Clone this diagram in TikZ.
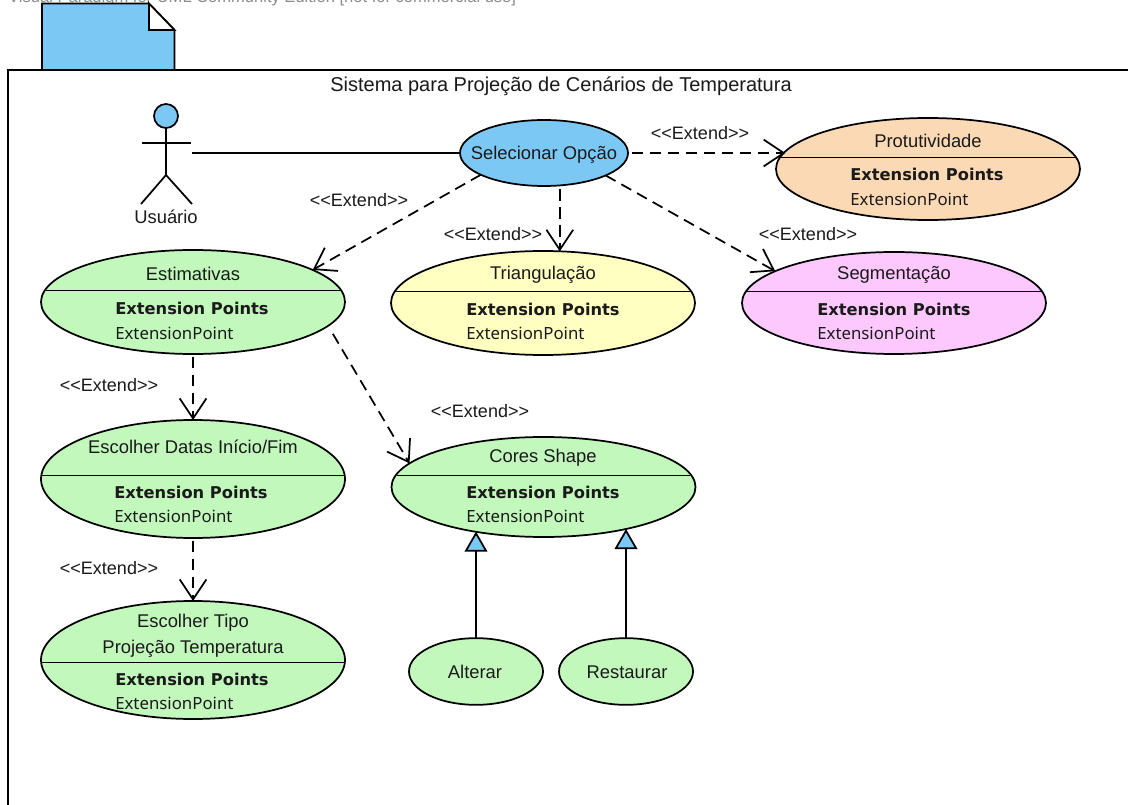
\documentclass[tikz,border=0pt]{standalone}
\usepackage{fontspec}
\setmainfont{Liberation Sans}
\newfontfamily\epfont{Noto Sans}
\newfontfamily\epbfont{DejaVu Sans}
\usetikzlibrary{shapes.geometric,arrows.meta}
\definecolor{cblue}{HTML}{7CC8F5}
\definecolor{cgreen}{HTML}{C2F8BC}
\definecolor{corange}{HTML}{FBD9B4}
\definecolor{cyellow}{HTML}{FFFFC2}
\definecolor{cpink}{HTML}{FDC8FD}
\definecolor{ink}{HTML}{1A1A1A}
\newcommand{\extlabel}{{<}{<}Extend{>}{>}}
\tikzset{
  ucase/.style={shape=ellipse,draw=black,line width=1.3pt,inner sep=0pt,outer sep=0pt},
  ttl/.style={font=\fontsize{13.8pt}{16pt}\selectfont,text=ink,inner sep=0pt,anchor=mid,yshift=-2pt},
  epb/.style={font=\epbfont\fontsize{12.2pt}{14pt}\selectfont\bfseries,text=ink,inner sep=0pt,anchor=mid west,yshift=-1.6pt},
  epn/.style={font=\epfont\fontsize{12.6pt}{14pt}\selectfont,text=ink,inner sep=0pt,anchor=mid west,yshift=-2pt},
  ext/.style={font=\fontsize{13.5pt}{16pt}\selectfont,text=ink,inner sep=0pt,anchor=mid,yshift=-2pt},
  dep/.style={draw=black,line width=1.3pt,dash pattern=on 8.5pt off 5pt,
     -{Straight Barb[length=15pt,width=20pt,line width=1.3pt]}},
  gen/.style={draw=black,line width=1.3pt,
     -{Triangle[open,length=15pt,width=17pt,fill=cblue,line width=1.3pt]}},
  solid line/.style={draw=black,line width=1.3pt}
}
% name, cx, cy, rx, ry, divider y, colour
\newcommand{\ucdiv}[7]{%
  \node[ucase,fill=#7,minimum width=#4*1.5pt,minimum height=#5*1.5pt] (#1) at (#2,#3) {};
  \pgfmathsetmacro{\hw}{(#4-1)*sqrt(1-((#6-#3)/#5)^2)}
  \draw[line width=0.6pt,black] ({#2-\hw},#6) -- ({#2+\hw},#6);
}
\begin{document}
\begin{tikzpicture}[x=0.75pt,y=-0.75pt]
\useasboundingbox (0,0) rectangle (1128,805);
\clip (0,0) rectangle (1128,805);
\fill[white] (0,0) rectangle (1128,805);
% header
\node[font=\fontsize{12.4pt}{14pt}\selectfont,text=black!45,inner sep=0pt,anchor=base west] (hdr) at (8,3) {Visual Paradigm for UML Community Edition [not for commercial use]};
% note tab
\path[fill=cblue,draw=black,line width=1.3pt] (42,3.5) -- (149,3.5) -- (174.5,30) -- (174.5,70) -- (42,70) -- cycle;
\path[fill=white,draw=black,line width=1.3pt] (149,3.5) -- (174.5,30) -- (149,30) -- cycle;
% frame
\draw[line width=1.2pt,black] (8,830) -- (8,70) -- (1150,70);
\node[font=\fontsize{15pt}{17pt}\selectfont,text=ink,inner sep=0pt,anchor=mid,yshift=-2.4pt] (sys) at (561,85) {Sistema para Projeção de Cenários de Temperatura};
% actor
\draw[line width=1.3pt,black] (166,128) -- (166,175);
\draw[line width=1.3pt,black] (142,143) -- (191,143);
\draw[line width=1.3pt,black] (141,204) -- (166,175) -- (192,204);
\node[shape=circle,draw=black,fill=cblue,line width=1.3pt,minimum size=18pt,inner sep=0pt] (head) at (166,116) {};
\node[ttl] (usr) at (166,217) {Usuário};
\coordinate (actor) at (192,153);
% use cases
\node[ucase,fill=cblue,minimum width=126pt,minimum height=49.5pt] (sel) at (544,153) {};
\node[ttl] (selT) at (544,153.5) {Selecionar Opção};
\ucdiv{prot}{928}{169}{152}{51}{157}{corange}
\node[ttl] (protT) at (928,141) {Protutividade};
\node[epb] (protE) at (850,175) {Extension Points};
\node[epn] (protP) at (850,199) {ExtensionPoint};
\ucdiv{est}{193}{302}{152}{52}{290}{cgreen}
\node[ttl] (estT) at (193,274) {Estimativas};
\node[epb] (estE) at (115,309) {Extension Points};
\node[epn] (estP) at (115,333) {ExtensionPoint};
\ucdiv{tri}{543}{303}{152}{52}{291}{cyellow}
\node[ttl] (triT) at (543,273) {Triangulação};
\node[epb] (triE) at (466,310) {Extension Points};
\node[epn] (triP) at (466,333) {ExtensionPoint};
\ucdiv{seg}{894}{303}{152}{51}{291}{cpink}
\node[ttl] (segT) at (894,273) {Segmentação};
\node[epb] (segE) at (817,310) {Extension Points};
\node[epn] (segP) at (817,333) {ExtensionPoint};
\ucdiv{dat}{193}{479}{152}{59}{475}{cgreen}
\node[ttl] (datT) at (193,447) {Escolher Datas Início/Fim};
\node[epb] (datE) at (114,493) {Extension Points};
\node[epn] (datP) at (114,516) {ExtensionPoint};
\ucdiv{cor}{543.5}{487}{152}{50}{475}{cgreen}
\node[ttl] (corT) at (543,456) {Cores Shape};
\node[epb] (corE) at (466,493) {Extension Points};
\node[epn] (corP) at (466,516) {ExtensionPoint};
\ucdiv{tip}{193}{660}{152}{59}{662}{cgreen}
\node[ttl] (tipT) at (193,621) {Escolher Tipo};
\node[ttl] (tipU) at (193,647) {Projeção Temperatura};
\node[epb] (tipE) at (115,680) {Extension Points};
\node[epn] (tipP) at (115,703) {ExtensionPoint};
\node[ucase,fill=cgreen,minimum width=100.5pt,minimum height=50pt] (alt) at (476,671.5) {};
\node[ttl] (altT) at (475,672) {Alterar};
\node[ucase,fill=cgreen,minimum width=100.5pt,minimum height=50pt] (res) at (626,671.5) {};
\node[ttl] (resT) at (627,672) {Restaurar};
% extend labels
\node[ext] (l1) at (700,133) {\extlabel};
\node[ext] (l2) at (359,200) {\extlabel};
\node[ext] (l3) at (493,234) {\extlabel};
\node[ext] (l4) at (808,234) {\extlabel};
\node[ext] (l5) at (109,385) {\extlabel};
\node[ext] (l6) at (480,411) {\extlabel};
\node[ext] (l7) at (109,568) {\extlabel};
% connectors
\draw[solid line] (actor) -- (sel.west);
\draw[dep,shorten <=3pt] (sel.east) -- (sel.east -| prot.173.7);
\draw[dep] (sel.199.2) -- (est.15);
\draw[dep,shorten <=3pt] (sel.296.6) -- (sel.296.6 |- tri.71.6);
\draw[dep] (sel.340) -- (seg.165.4);
\draw[dep,shorten <=2pt] (est.south) -- (dat.north);
\draw[dep,shorten <=7pt] (est.350.3) -- (cor.170.6);
\draw[dep,shorten <=2pt] (dat.south) -- (tip.north);
\draw[gen] (alt.north) -- (alt.north |- cor.213.9);
\draw[gen] (res.north) -- (res.north |- cor.333.2);
\end{tikzpicture}
\end{document}
